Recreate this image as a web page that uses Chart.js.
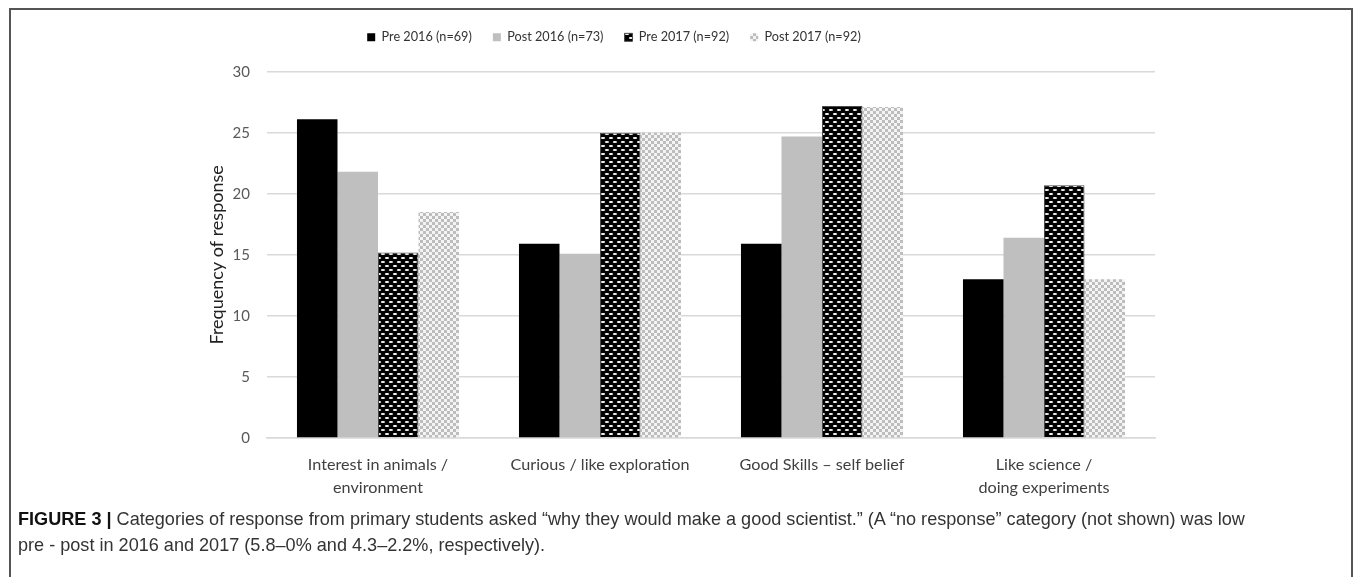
<!DOCTYPE html>
<html>
<head>
<meta charset="utf-8">
<script src="https://cdn.jsdelivr.net/npm/chart.js@4.4.1/dist/chart.umd.min.js"></script>
<style>
  html, body { margin: 0; padding: 0; background: #fff; width: 1355px; height: 577px; overflow: hidden; }
  #frame { position: absolute; left: 9px; top: 8px; width: 1344px; height: 640px; border: 2px solid #555; border-bottom: none; box-sizing: border-box; }
  #wrap { position: absolute; left: 0; top: 0; width: 1355px; height: 513px; }
  #caption { position: absolute; left: 18px; top: 506px; width: 1330px; white-space: nowrap; font-family: "Liberation Sans", Arial, sans-serif; font-size: 18.1px; line-height: 26px; color: #333; }
  #caption b { color: #111; }
</style>
</head>
<body>
<div id="frame"></div>
<div id="wrap"><canvas id="chart"></canvas></div>
<div id="caption"><b>FIGURE 3 |</b> Categories of response from primary students asked “why they would make a good scientist.” (A “no response” category (not shown) was low<br>pre - post in 2016 and 2017 (5.8–0% and 4.3–2.2%, respectively).</div>
<script>
// Response categories (multi-line labels as arrays)
const categories = [
  ["Interest in animals /", "environment"],
  "Curious / like exploration",
  "Good Skills – self belief",
  ["Like science /", "doing experiments"]
];
const seriesNames = ["Pre 2016 (n=69)", "Post 2016 (n=73)", "Pre 2017 (n=92)", "Post 2017 (n=92)"];

// Frequency of response per category
const pre2016  = [26.1, 15.9, 15.9, 13.0];
const post2016 = [21.8, 15.1, 24.7, 16.4];
const pre2017  = [15.2, 25.0, 27.2, 20.7];
const post2017 = [18.5, 25.0, 27.1, 13.0];

const yMin = 0, yMax = 30, yStep = 5;

// Black fill with staggered white dashes
function dashPattern() {
  const c = document.createElement('canvas');
  c.width = 8; c.height = 8;
  const g = c.getContext('2d');
  g.fillStyle = '#000';
  g.fillRect(0, 0, 8, 8);
  g.fillStyle = '#fff';
  const dash = (cx, cy) => { g.beginPath(); g.ellipse(cx, cy, 2.2, 0.9, 0, 0, Math.PI * 2); g.fill(); };
  dash(3, 2); dash(7, 6); dash(-1, 6);
  return g.createPattern(c, 'repeat');
}

// Light grey checkerboard
function checkerPattern() {
  const c = document.createElement('canvas');
  c.width = 6; c.height = 6;
  const g = c.getContext('2d');
  g.fillStyle = '#f4f4f4';
  g.fillRect(0, 0, 6, 6);
  g.fillStyle = '#bdbdbd';
  g.fillRect(0, 0, 3, 3);
  g.fillRect(3, 3, 3, 3);
  return g.createPattern(c, 'repeat');
}

// Extra space between the legend row and the plot area
const legendGap = {
  id: 'legendGap',
  afterInit(chart) {
    const lg = chart.legend;
    if (!lg) return;
    const fit = lg.fit;
    lg.fit = function () { fit.call(this); this.height += 18; };
  }
};

const textFont = "Lato, 'Open Sans', sans-serif";

new Chart(document.getElementById('chart'), {
  type: 'bar',
  data: {
    labels: categories,
    datasets: [
      { label: seriesNames[0], data: pre2016, backgroundColor: '#000000', borderWidth: 0 },
      { label: seriesNames[1], data: post2016, backgroundColor: '#bfbfbf', borderWidth: 0 },
      { label: seriesNames[2], data: pre2017, backgroundColor: dashPattern(), borderColor: '#4a4a4a', borderWidth: 1 },
      { label: seriesNames[3], data: post2017, backgroundColor: checkerPattern(), borderWidth: 0 }
    ]
  },
  plugins: [legendGap],
  options: {
    responsive: true,
    maintainAspectRatio: false,
    animation: false,
    categoryPercentage: 0.73,
    barPercentage: 1.0,
    layout: { padding: { left: 73, right: 200, top: 10, bottom: 6 } },
    plugins: {
      tooltip: { enabled: false },
      legend: {
        position: 'top',
        labels: {
          boxWidth: 8, boxHeight: 8, padding: 21,
          color: '#333',
          font: { family: textFont, size: 12.7 }
        }
      }
    },
    scales: {
      x: {
        grid: { display: false },
        border: { color: '#d9d9d9', width: 1.5 },
        ticks: { color: '#404040', padding: 7, maxRotation: 0, font: { family: textFont, size: 16.2, lineHeight: 1.45 } }
      },
      y: {
        min: yMin, max: yMax,
        ticks: { stepSize: yStep, color: '#595959', padding: 17, font: { family: textFont, size: 15 } },
        grid: { color: '#d9d9d9', lineWidth: 1.5, drawTicks: false },
        border: { display: false },
        title: { display: true, text: 'Frequency of response', color: '#222', padding: { top: 133, bottom: 0 }, font: { family: textFont, size: 18 } },
        afterFit: (axis) => { axis.width = 194; }
      }
    }
  }
});
</script>
</body>
</html>
